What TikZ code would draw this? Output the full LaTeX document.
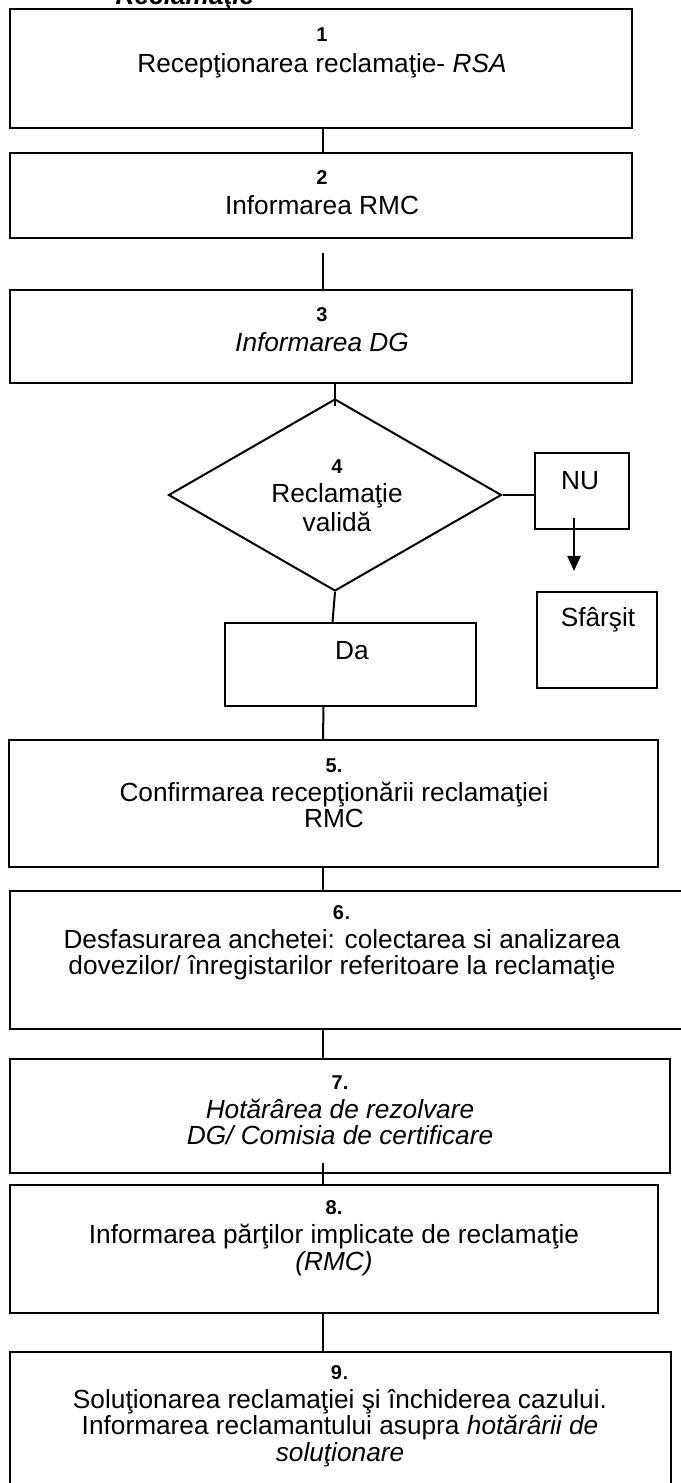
\documentclass[tikz,border=0pt]{standalone}
\usepackage{fontspec}
\setmainfont{Liberation Sans}
\usetikzlibrary{shapes.geometric, fit, arrows.meta}
\newcommand{\nrf}[1]{{\fontsize{8}{9}\selectfont\bfseries #1}}
\begin{document}
\begin{tikzpicture}[x=0.4pt, y=-0.4pt,
        every node/.style={font=\fontsize{10.5}{10.6}\selectfont, align=center, inner sep=0pt},
        cutie/.style={draw, line width=0.8pt, fit={#1}},
        decizie/.style={draw, diamond, line width=0.8pt, minimum width=133.2pt, minimum height=76.8pt},
        linie/.style={line width=0.8pt},
        flecha/.style={-{Triangle[length=6pt, width=5.2pt]}, line width=0.8pt}
    ]
    \useasboundingbox (0,0) rectangle (680,1483);
    \node (titlu) [anchor=base, font=\fontsize{10.5}{10.6}\selectfont\bfseries\itshape] at (185,5) {Reclamaţie};

    \node (b1) [cutie={(10,9) (632,128)}] {};
    \node (b2) [cutie={(10,153) (632,238)}] {};
    \node (b3) [cutie={(10,290) (632,383)}] {};
    \node (dec) [decizie] at (335,495) {};
    \node (nu) [cutie={(535,453) (629,529)}] {};
    \node (end) [cutie={(537,592) (657,688)}] {};
    \node (da) [cutie={(225,623) (476,706)}] {};
    \node (b5) [cutie={(9,740) (658,867)}] {};
    \node (b6) [cutie={(10,891) (720,1029)}] {};
    \node (b7) [cutie={(10,1059) (670,1173)}] {};
    \node (b8) [cutie={(10,1185) (658,1313)}] {};
    \node (b9) [cutie={(10,1352) (671,1520)}] {};

    \node (t1) at (322,53) {\nrf{1}\\[1.5pt] Recepţionarea reclamaţie- \textit{RSA}};
    \node (t2) at (322,193) {\nrf{2}\\[1.5pt] Informarea RMC};
    \node (t3) at (322,330) {\nrf{3}\\[1.5pt] \textit{Informarea DG}};
    \node (t4) at (337,496) {\nrf{4}\\[1pt] Reclamaţie\\[1pt] validă};
    \node (tnu) at (580,481) {NU};
    \node (tend) at (598,620) {Sfârşit};
    \node (tda) at (352,651) {Da};
    \node (t5) at (334,793) {\nrf{5.}\\[1pt] Confirmarea recepţionării reclamaţiei\\ RMC};
    \node (t6) at (342,943) {\nrf{6}.\\[1pt] Desfasurarea anchetei: colectarea si analizarea\\ dovezilor/ înregistarilor referitoare la reclamaţie};
    \node (t7) at (340,1110) {\nrf{7.}\\[1pt] \textit{Hotărârea de rezolvare}\\ \textit{DG/ Comisia de certificare}};
    \node (t8) at (334,1238) {\nrf{8.}\\[1pt] Informarea părţilor implicate de reclamaţie\\ \textit{(RMC)}};
    \node (t9) at (340,1416) {\nrf{9}.\\[1pt] Soluţionarea reclamaţiei şi închiderea cazului.\\ Informarea reclamantului asupra \textit{hotărârii de}\\ \textit{soluţionare}};

    \coordinate (ax) at (323,0);
    \coordinate (sx) at (574,0);
    \draw [linie] (b1.south -| ax) -- (b2.north -| ax);
    \draw [linie] ([yshift=-5.6pt]b2.south -| ax) -- (b3.north -| ax);
    \draw [linie] (b3.south -| dec.north) -- ([yshift=-3.2pt]dec.north);
    \draw [linie] (dec.east) -- (dec.east -| nu.west);
    \draw [flecha] ([yshift=4.8pt]nu.south -| sx) -- ([yshift=8pt]end.north -| sx);
    \draw [linie] (dec.south) -- ([xshift=-7.2pt]da.north);
    \draw [linie] ([xshift=-10.8pt]da.south) -- (b5.north -| ax);
    \draw [linie] (b5.south -| ax) -- (b6.north -| ax);
    \draw [linie] (b6.south -| ax) -- (b7.north -| ax);
    \draw [linie] ([yshift=4.4pt]b7.south -| ax) -- (b8.north -| ax);
    \draw [linie] (b8.south -| ax) -- (b9.north -| ax);
\end{tikzpicture}
\end{document}
